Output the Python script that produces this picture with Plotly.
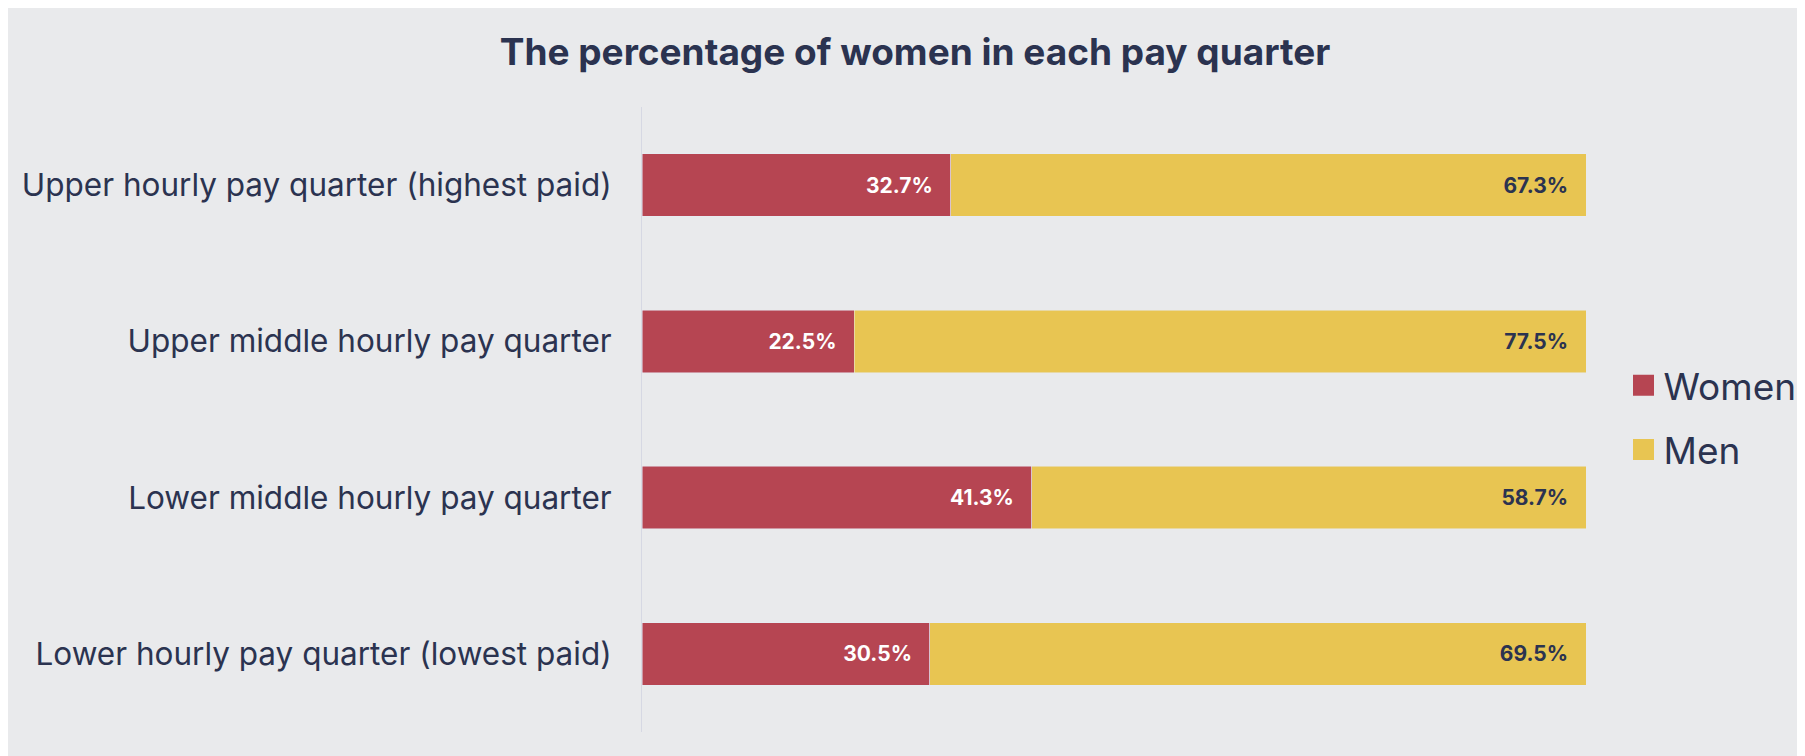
import plotly.graph_objects as go

categories = [
    "Upper hourly pay quarter (highest paid)",
    "Upper middle hourly pay quarter",
    "Lower middle hourly pay quarter",
    "Lower hourly pay quarter (lowest paid)",
]
women = [32.7, 22.5, 41.3, 30.5]
men = [67.3, 77.5, 58.7, 69.5]

RED = "#b64552"
YELLOW = "#e8c552"
DARK = "#2b3350"
BG = "#e9eaec"
FONT = "Inter"
PAD = "\u00a0\u00a0\u00a0"

fig = go.Figure()
fig.add_trace(go.Bar(
    y=categories, x=women, orientation="h", name="Women",
    marker=dict(color=RED), showlegend=False, legendgroup="w",
    text=[f"{v:.1f}%{PAD}" for v in women], textposition="inside",
    insidetextanchor="end", textangle=0,
    insidetextfont=dict(color="white", size=21, family=FONT, weight="bold"),
    hoverinfo="skip",
))
fig.add_trace(go.Bar(
    y=categories, x=men, orientation="h", name="Men",
    marker=dict(color=YELLOW), showlegend=False, legendgroup="m",
    text=[f"{v:.1f}%{PAD}" for v in men], textposition="inside",
    insidetextanchor="end", textangle=0,
    insidetextfont=dict(color=DARK, size=21, family=FONT, weight="bold"),
    hoverinfo="skip",
))
# legend entries
for name, col, grp in [("Women", RED, "w"), ("Men", YELLOW, "m")]:
    fig.add_trace(go.Scatter(
        x=[None], y=[None], mode="markers", name=name, legendgroup=grp,
        marker=dict(symbol="square", size=16, color=col, line=dict(color=col, width=5)),
        showlegend=True,
    ))

fig.update_layout(
    width=1805, height=756,
    paper_bgcolor=BG, plot_bgcolor=BG,
    barmode="stack", bargap=0.6,
    margin=dict(l=634, r=227, t=99, b=32),
    title=dict(
        text="The percentage of women in each pay quarter",
        x=0.5025, xanchor="center", y=0.942, yanchor="middle",
        font=dict(family=FONT, size=37, color=DARK, weight="bold"),
    ),
    xaxis=dict(range=[0, 100], visible=False, fixedrange=True),
    yaxis=dict(
        categoryorder="array", categoryarray=categories[::-1],
        showline=True, linecolor="#d6d8e3", linewidth=1,
        showgrid=False, zeroline=False, ticks="",
        ticklabelstandoff=23,
        tickfont=dict(family=FONT, size=31.5, color=DARK),
    ),
    legend=dict(
        xref="container", yref="container", x=0.895, y=0.458,
        xanchor="left", yanchor="middle",
        traceorder="grouped", tracegroupgap=13,
        font=dict(family=FONT, size=37, color=DARK),
        bgcolor="rgba(0,0,0,0)",
    ),
    showlegend=True,
)

fig.write_html("out.html")
